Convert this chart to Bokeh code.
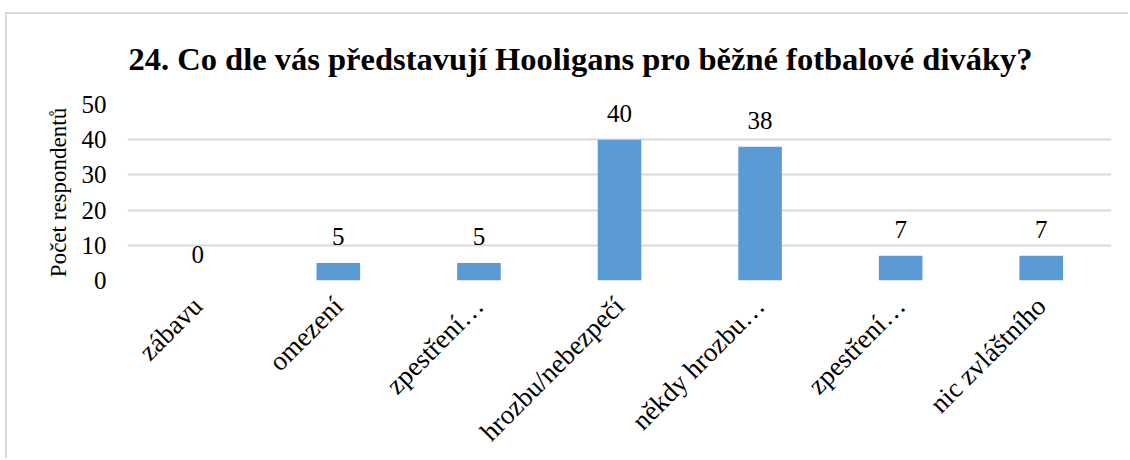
from bokeh.plotting import figure
from bokeh.models import Range1d, FixedTicker, ColumnDataSource, Title
from bokeh.core.properties import value
from bokeh.embed import file_html
from bokeh.resources import INLINE
import math

# Data
categories = ["zábavu", "omezení", "zpestření…", "hrozbu/nebezpečí",
              "někdy hrozbu…", "zpestření…", "nic zvláštního"]
counts = [0, 5, 5, 40, 38, 7, 7]
y_ticks = [0, 10, 20, 30, 40, 50]

TITLE = "24. Co dle vás představují Hooligans pro běžné fotbalové diváky?"
FONT = "'Liberation Serif', 'Times New Roman', serif"

xs = list(range(len(categories)))
source = ColumnDataSource(data=dict(x=xs, val=counts, lbl=[str(v) for v in counts]))

p = figure(width=1123, height=446, x_range=Range1d(-0.5, len(categories) - 0.5),
           y_range=Range1d(0, 50),
           output_backend="svg", toolbar_location=None,
           min_border_left=120, min_border_right=19, min_border_top=90,
           min_border_bottom=180, margin=(12, 0, 0, 5))
p.styles = {"border-top": "2px solid #d9d9d9", "border-left": "2px solid #d9d9d9"}

p.outline_line_color = None
p.background_fill_color = "white"
p.border_fill_color = "white"

spacer = Title(text=" ", text_font_size="10px")
p.add_layout(spacer, "above")
main_title = Title(text=TITLE, align="left", offset=1, text_font=FONT,
                   text_font_size="32.5px", text_font_style="bold", text_color="black")
p.add_layout(main_title, "above")

p.vbar(x="x", top="val", width=0.31, source=source, color="#5b9bd5", line_color=None)
p.text(x="x", y="val", text="lbl", source=source, text_align="center",
       text_baseline="alphabetic", y_offset=-26, text_font=value(FONT),
       text_font_size="25px", text_color="black")

# y axis
p.yaxis.ticker = FixedTicker(ticks=y_ticks)
p.yaxis.axis_line_color = None
p.yaxis.major_tick_line_color = None
p.yaxis.major_tick_out = 0
p.yaxis.minor_tick_line_color = None
p.yaxis.major_label_text_font = FONT
p.yaxis.major_label_text_font_size = "25px"
p.yaxis.major_label_text_color = "black"
p.yaxis.major_label_standoff = 21
p.yaxis.axis_label = "Počet respondentů"
p.yaxis.axis_label_text_font = FONT
p.yaxis.axis_label_text_font_size = "23px"
p.yaxis.axis_label_text_font_style = "normal"
p.yaxis.axis_label_text_color = "black"
p.yaxis.axis_label_standoff = 8

# x axis
p.xaxis.ticker = FixedTicker(ticks=xs)
p.xaxis.major_label_overrides = {i: c for i, c in zip(xs, categories)}
p.xaxis.axis_line_color = None
p.xaxis.major_tick_line_color = None
p.xaxis.major_tick_out = 0
p.xaxis.minor_tick_line_color = None
p.xaxis.major_label_orientation = math.pi / 4
p.xaxis.major_label_text_font = FONT
p.xaxis.major_label_text_font_size = "27px"
p.xaxis.major_label_text_color = "black"
p.xaxis.major_label_standoff = 21

p.xgrid.grid_line_color = None
p.ygrid.grid_line_color = "#d9d9d9"
p.ygrid.grid_line_width = 2

open("out.html", "w").write(file_html(p, INLINE))
